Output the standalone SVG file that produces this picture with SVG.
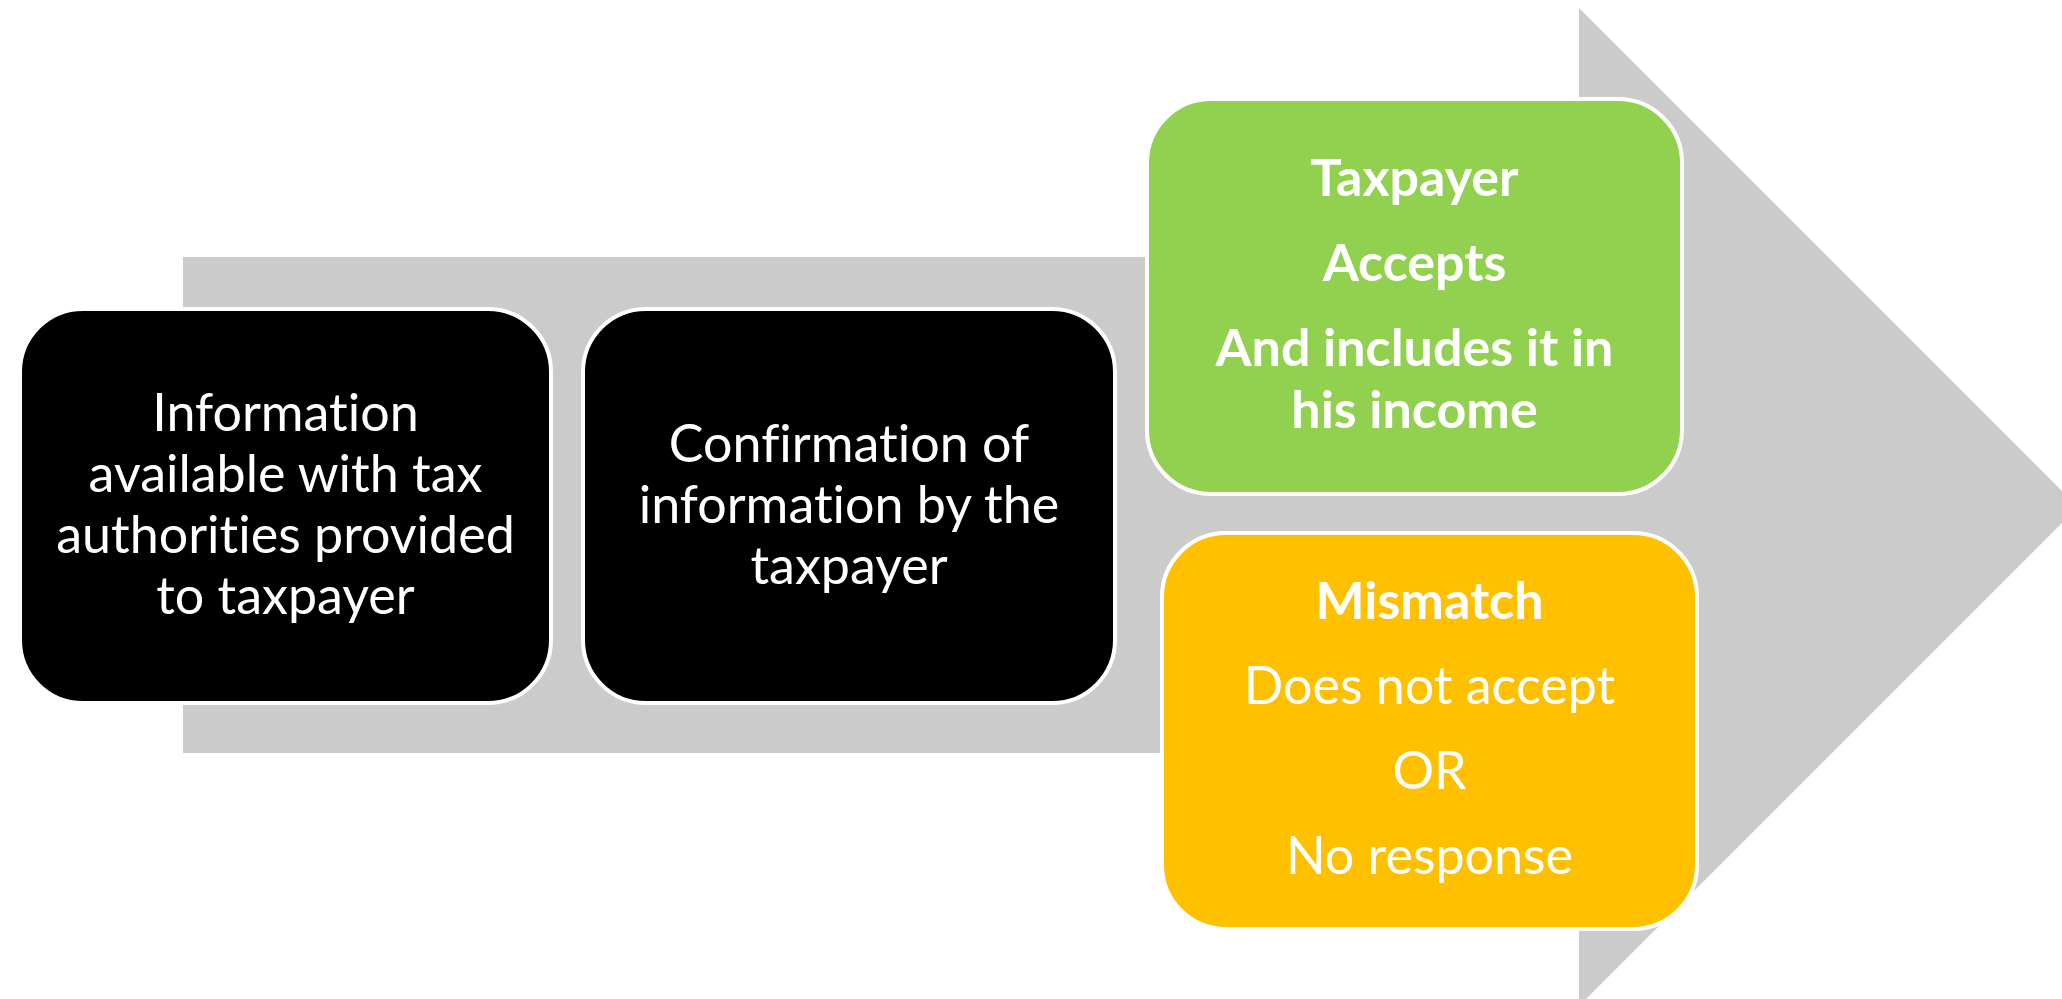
<svg xmlns="http://www.w3.org/2000/svg" width="2062" height="999" viewBox="0 0 2062 999">
<style>
.box{stroke:#ffffff;stroke-width:4}
.t{font-family:Lato,"Liberation Sans",sans-serif;font-size:52px;fill:#ffffff;text-anchor:middle;font-variant-ligatures:none;font-feature-settings:"liga" 0,"clig" 0}
.b{font-weight:bold}
</style>
<rect width="2062" height="999" fill="#ffffff"/>
<g id="connectors">
<path id="big-arrow" d="M183,257 H1579 V8 L2078,507 L1579,1006 V753 H183 Z" fill="#cbcbcb"/>
</g>
<g id="node-info">
<rect class="box" x="20" y="309" width="531" height="394" rx="63" ry="63" fill="#000000"/>
<text class="t" x="285.5" y="431">Information</text>
<text class="t" x="285.5" y="492">available with tax</text>
<text class="t" x="285.5" y="553">authorities provided</text>
<text class="t" x="285.5" y="614">to taxpayer</text>
</g>
<g id="node-confirm">
<rect class="box" x="583" y="309" width="532" height="394" rx="63" ry="63" fill="#000000"/>
<text class="t" x="849" y="462">Confirmation of</text>
<text class="t" x="849" y="523">information by the</text>
<text class="t" x="849" y="584">taxpayer</text>
</g>
<g id="node-accepts">
<rect class="box" x="1147" y="99" width="535" height="395" rx="64" ry="64" fill="#92d050"/>
<text class="t b" x="1414.5" y="196">Taxpayer</text>
<text class="t b" x="1414.5" y="281">Accepts</text>
<text class="t b" x="1414.5" y="366">And includes it in</text>
<text class="t b" x="1414.5" y="428">his income</text>
</g>
<g id="node-mismatch">
<rect class="box" x="1162" y="533" width="535" height="396" rx="64" ry="64" fill="#ffc000"/>
<text class="t b" x="1429.5" y="619">Mismatch</text>
<text class="t" x="1429.5" y="704">Does not accept</text>
<text class="t" x="1429.5" y="789">OR</text>
<text class="t" x="1429.5" y="874">No response</text>
</g>
</svg>
